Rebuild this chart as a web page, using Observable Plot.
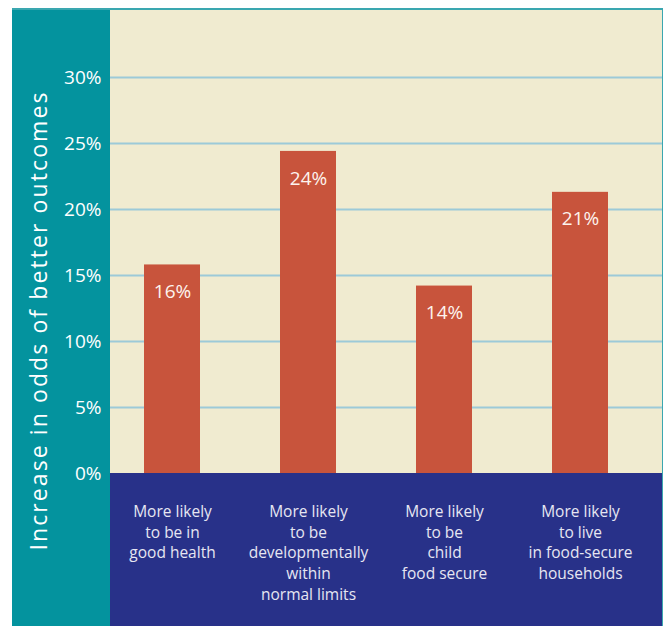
<!DOCTYPE html>
<html>
<head>
<meta charset="utf-8">
<script src="https://cdn.jsdelivr.net/npm/d3@7"></script>
<script src="https://cdn.jsdelivr.net/npm/@observablehq/plot@0.6"></script>
<style>
  html, body { margin: 0; padding: 0; background: #ffffff; }
  #wrap { position: relative; width: 663px; height: 626px; overflow: hidden; font-family: "Open Sans", sans-serif; }
  .panel { position: absolute; }
  #chart { position: absolute; left: 0; top: 0; }
</style>
</head>
<body>
<div id="wrap">
  <div class="panel" style="left:12px;top:8px;width:98px;height:618px;background:#04939e;"></div>
  <div class="panel" style="left:110px;top:10px;width:552px;height:463px;background:#f0ebd0;"></div>
  <div class="panel" style="left:110px;top:473px;width:552px;height:153px;background:#283189;"></div>
  <div class="panel" style="left:12px;top:8px;width:651px;height:2px;background:#3aa7b0;"></div>
  <div class="panel" style="left:662px;top:8px;width:1px;height:618px;background:#3aa7b0;"></div>
  <div id="chart"></div>
</div>
<script>
const categories = [
  "More likely\nto be in\ngood health",
  "More likely\nto be\ndevelopmentally\nwithin\nnormal limits",
  "More likely\nto be\nchild\nfood secure",
  "More likely\nto live\nin food-secure\nhouseholds"
];
const values = [15.8, 24.4, 14.2, 21.3];
const valueLabels = ["16%", "24%", "14%", "21%"];
const yTicks = [0, 5, 10, 15, 20, 25, 30];
const gridTicks = [5, 10, 15, 20, 25, 30];
const yTitle = "Increase in odds of better outcomes";

const data = categories.map((c, i) => ({category: c, value: values[i], label: valueLabels[i]}));

const chart = Plot.plot({
  width: 663,
  height: 626,
  marginLeft: 110,
  marginRight: 1,
  marginTop: 11,
  marginBottom: 153,
  style: {background: "transparent", fontFamily: "Open Sans, sans-serif", overflow: "visible"},
  x: {type: "band", domain: categories, paddingInner: 0.59, paddingOuter: 0.314, align: 0.384, axis: null},
  y: {domain: [0, 35], axis: null},
  marks: [
    Plot.ruleY(gridTicks, {stroke: "#9ccad8", strokeWidth: 1.8}),
    Plot.barY(data, {x: "category", y: "value", fill: "#c8543c"}),
    Plot.text(data, {x: "category", y: "value", text: "label", dy: 27, fill: "#fdf3ee", fontSize: 19}),
    Plot.axisY(yTicks, {
      tickSize: 0, tickPadding: 9, fontSize: 19, fill: "#ffffff",
      tickFormat: d => d + "%", label: null
    }),
    Plot.text(categories, {
      x: d => d, text: d => d, frameAnchor: "bottom", dy: 29, lineAnchor: "top",
      lineHeight: 1.33, fontSize: 15.5, fill: "#e6e6f2"
    }),
    Plot.text([yTitle], {
      text: d => d, frameAnchor: "left", textAnchor: "middle", rotate: -90, dx: -71, dy: 78,
      fontSize: 23, fill: "#ffffff"
    })
  ]
});
d3.select(chart).selectAll("text")
  .filter(function() { return this.textContent === yTitle; })
  .style("letter-spacing", "2.1px");
document.getElementById("chart").appendChild(chart);
</script>
</body>
</html>
